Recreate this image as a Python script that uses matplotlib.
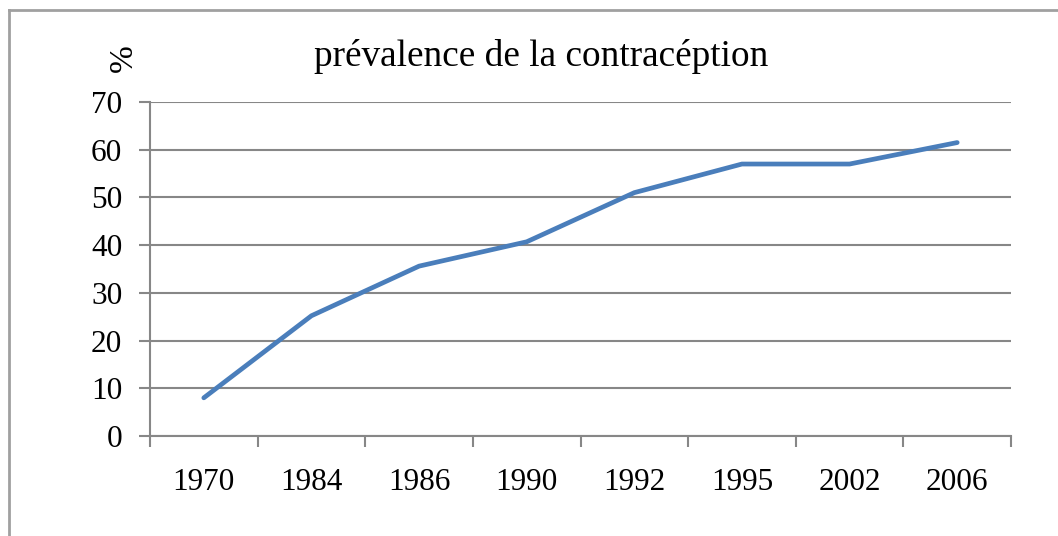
import matplotlib
matplotlib.use("Agg")
import matplotlib.pyplot as plt
from matplotlib.lines import Line2D
import numpy as np

years = ["1970", "1984", "1986", "1990", "1992", "1995", "2002", "2006"]
prevalence = [8.0, 25.2, 35.6, 40.7, 51.0, 57.0, 57.0, 61.5]
yticks = [0, 10, 20, 30, 40, 50, 60, 70]

plt.rcParams["font.family"] = ["Liberation Serif", "DejaVu Serif"]
grey = "#878787"

fig = plt.figure(figsize=(10.58, 5.36), dpi=100)
ax = fig.add_axes([150/1058, 1 - 436/536, (1011 - 150)/1058, (436 - 102)/536])

x = np.arange(len(years))
ax.plot(x, prevalence, color="#4a7ebb", lw=3.4, solid_capstyle="round",
        solid_joinstyle="round", zorder=3)

ax.set_xlim(-0.5, len(years) - 0.5)
ax.set_ylim(0, 70)
ax.set_yticks(yticks)
ax.set_yticklabels([str(v) for v in yticks], fontsize=22.5)
ax.yaxis.grid(True, color=grey, lw=1.5)
ax.set_axisbelow(True)

# category labels centred, tick marks on the category boundaries
ax.set_xticks(x)
ax.set_xticklabels(years, fontsize=22.5)
ax.tick_params(axis="x", which="major", length=0, pad=23)
ax.set_xticks(np.arange(len(years) + 1) - 0.5, minor=True)
ax.tick_params(axis="x", which="minor", length=8, width=1.5, color=grey)
ax.tick_params(axis="y", length=8, width=1.5, color=grey, pad=12)

for side in ["top", "right"]:
    ax.spines[side].set_visible(False)
for side in ["left", "bottom"]:
    ax.spines[side].set_color(grey)
    ax.spines[side].set_linewidth(1.5)

fig.text(541/1058, 1 - 56/536, "prévalence de la contracéption", fontsize=26.8,
         ha="center", va="center")
fig.text(124/1058, 1 - 58/536, "%", fontsize=24, rotation=90,
         ha="center", va="center")

# chart frame (top and left edges)
fig.add_artist(Line2D([9/1058, 9/1058], [0, 1 - 10/536], transform=fig.transFigure,
                      color="#a0a0a0", lw=2))
fig.add_artist(Line2D([9/1058, 1], [1 - 10/536, 1 - 10/536], transform=fig.transFigure,
                      color="#a0a0a0", lw=2))

fig.savefig("out.png", dpi=100)
